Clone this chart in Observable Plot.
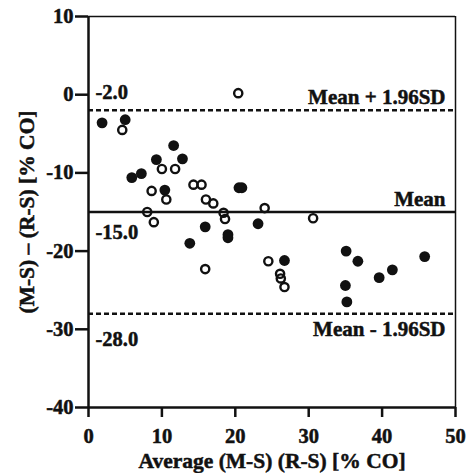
<!DOCTYPE html>
<html><head><meta charset="utf-8">
<script src="https://cdn.jsdelivr.net/npm/d3@7"></script>
<script src="https://cdn.jsdelivr.net/npm/@observablehq/plot@0.6"></script>
<style>body{margin:0;background:#fff} svg text{font-weight:bold !important;font-family:'Liberation Serif','Times New Roman',serif !important;stroke:#111;stroke-width:0.5px}</style>
</head><body><div id="chart"></div>
<script>
// Filled circles
const filledX = [1.85, 5.0, 11.6, 9.25, 12.8, 5.9, 7.2, 10.4, 13.8, 15.9, 20.5, 20.9, 19.0, 19.0, 23.1, 26.7, 35.1, 36.7, 35.0, 35.2, 39.6, 41.4, 45.8];
const filledY = [-3.6, -3.2, -6.5, -8.3, -8.2, -10.6, -10.1, -12.2, -19.0, -16.9, -11.9, -11.9, -17.9, -18.3, -16.5, -21.2, -20.0, -21.3, -24.4, -26.5, -23.4, -22.4, -20.7];
// Open circles
const openX = [4.6, 10.0, 11.8, 8.6, 14.3, 15.4, 10.6, 8.0, 8.9, 15.9, 16.0, 17.0, 18.4, 18.6, 24.0, 24.5, 26.1, 26.2, 26.7, 30.6, 20.4];
const openY = [-4.5, -9.5, -9.5, -12.3, -11.5, -11.5, -13.4, -15.0, -16.3, -22.3, -13.4, -13.9, -15.1, -15.9, -14.5, -21.3, -22.9, -23.5, -24.6, -15.8, 0.2];

const xTicks = [0, 10, 20, 30, 40, 50];
const yTicks = [10, 0, -10, -20, -30, -40];
const meanDiff = -15.0, upperLoA = -2.0, lowerLoA = -28.0;
const lineLabels = ["Mean + 1.96SD", "Mean", "Mean - 1.96SD"];
const xLabel = "Average (M-S) (R-S) [% CO]";
const yLabel = "(M-S) \u2013 (R-S) [% CO]";

const filled = filledX.map((x, i) => ({x, y: filledY[i]}));
const open = openX.map((x, i) => ({x, y: openY[i]}));

const FONT = "'Liberation Serif', 'Times New Roman', serif";
const txt = {fontFamily: FONT, fontWeight: "bold", fill: "#111"};

const chart = Plot.plot({
  width: 468, height: 473,
  marginLeft: 88, marginRight: 13, marginTop: 16, marginBottom: 66,
  style: {fontFamily: FONT, fontWeight: "bold", fontSize: "20px", background: "#fff", color: "#111"},
  x: {domain: [0, 50], nice: false},
  y: {domain: [-40, 10], nice: false},
  marks: [
    Plot.ruleY([10], {stroke: "#111", strokeWidth: 1.5}),
    Plot.ruleX([50], {stroke: "#111", strokeWidth: 1.5}),
    Plot.ruleY([upperLoA], {stroke: "#111", strokeWidth: 2.5, strokeDasharray: "5,3"}),
    Plot.ruleY([lowerLoA], {stroke: "#111", strokeWidth: 2.5, strokeDasharray: "5,3"}),
    Plot.ruleY([meanDiff], {stroke: "#111", strokeWidth: 2.5}),
    Plot.axisX({ticks: xTicks, tickSize: 10, tickPadding: 11, tickFormat: d => String(d), strokeWidth: 2.5, fontSize: 20.5, ...txt, label: null}),
    Plot.axisY({ticks: yTicks, tickSize: 13, tickPadding: 2, tickFormat: d => String(d), strokeWidth: 2.5, fontSize: 20.5, ...txt, label: null}),
    Plot.ruleX([0], {stroke: "#111", strokeWidth: 2.5}),
    Plot.ruleY([-40], {stroke: "#111", strokeWidth: 2.5}),
    Plot.dot(filled, {x: "x", y: "y", r: 5.4, fill: "#111", stroke: "none"}),
    Plot.dot(open, {x: "x", y: "y", r: 4.1, fill: "none", stroke: "#111", strokeWidth: 2.4}),
    // value labels on left
    Plot.text([upperLoA], {y: d => d, text: d => d.toFixed(1), frameAnchor: "left", textAnchor: "start", lineAnchor: "bottom", dx: 7, dy: -11, fontSize: 20.5, ...txt}),
    Plot.text([meanDiff], {y: d => d, text: d => d.toFixed(1), frameAnchor: "left", textAnchor: "start", lineAnchor: "bottom", dx: 7, dy: 27, fontSize: 20.5, ...txt}),
    Plot.text([lowerLoA], {y: d => d, text: d => d.toFixed(1), frameAnchor: "left", textAnchor: "start", lineAnchor: "bottom", dx: 7, dy: 32, fontSize: 20.5, ...txt}),
    // line labels on right
    Plot.text([upperLoA], {y: d => d, text: [lineLabels[0]], frameAnchor: "right", textAnchor: "end", lineAnchor: "bottom", dx: -10, dy: -6, fontSize: 21, ...txt}),
    Plot.text([meanDiff], {y: d => d, text: [lineLabels[1]], frameAnchor: "right", textAnchor: "end", lineAnchor: "bottom", dx: -10, dy: -6.5, fontSize: 21, ...txt}),
    Plot.text([lowerLoA], {y: d => d, text: [lineLabels[2]], frameAnchor: "right", textAnchor: "end", lineAnchor: "bottom", dx: -10, dy: 22, fontSize: 21, ...txt}),
    // axis titles
    Plot.text([xLabel], {text: d => d, frameAnchor: "bottom", textAnchor: "middle", lineAnchor: "bottom", dy: 60, fontSize: 21.5, ...txt}),
    Plot.text([yLabel], {text: d => d, frameAnchor: "left", textAnchor: "middle", lineAnchor: "middle", rotate: -90, dx: -61, fontSize: 21.5, ...txt})
  ]
});
document.getElementById("chart").appendChild(chart);
</script>
</body></html>
